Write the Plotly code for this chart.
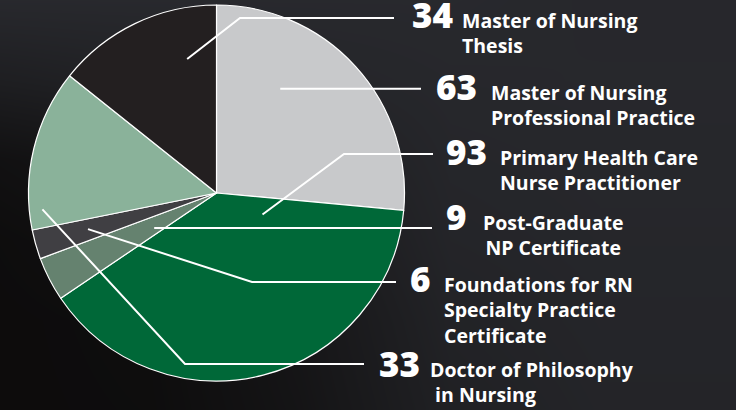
import math
import plotly.graph_objects as go

# ---- data (pie order: clockwise from 12 o'clock) ----
programs = [
    "Master of Nursing Professional Practice",
    "Primary Health Care Nurse Practitioner",
    "Post-Graduate NP Certificate",
    "Foundations for RN Specialty Practice Certificate",
    "Doctor of Philosophy in Nursing",
    "Master of Nursing Thesis",
]
enrolment = [63, 93, 9, 6, 33, 34]
label_lines = [
    ["Master of Nursing", "Professional Practice"],
    ["Primary Health Care", "Nurse Practitioner"],
    ["Post-Graduate", "NP Certificate"],
    ["Foundations for RN", "Specialty Practice", "Certificate"],
    ["Doctor of Philosophy", "&nbsp;in Nursing"],
    ["Master of Nursing", "Thesis"],
]
slice_colors = ["#c8c9cb", "#006838", "#65826f", "#403f43", "#8ab29a", "#231f20"]

# ---- layout constants (pixels) ----
W, H = 736, 410
CX, CY, R = 216.5, 193.0, 188.0

# leader: (position inside slice 0..1, radius fraction, elbow x, elbow y, end x)
leaders = [
    (0.33, 0.65, None, None, 421),
    (0.14, 0.27, 344, 154, 433),
    (0.35, 0.38, None, None, 432),
    (0.52, 0.71, 252, 282, 396),
    (0.12, 0.93, 185, 364, 364),
    (0.76, 0.73, 240, 18, 394),
]
# label: (number right x, text x, first-line baseline y, xanchor)
label_pos = [
    (479, 489, 101, "left"),
    (489, 498, 166, "left"),
    (469, 553, 231, "center"),
    (433, 442, 293, "left"),
    (422, 428, 378, "left"),
    (455, 460, 29, "left"),
]

FONT = "Open Sans"
NUM_SIZE = 35
TXT_SIZE = 19.5
TXT_RAISE = 2
ASC = 1.069   # Open Sans ascent (em)
DESC = 0.293  # Open Sans descent (em)

fig = go.Figure()

# background shading (decorative)
bg_x = [0, 150, 300, 450, 600, 736]
bg_y = [0, 80, 160, 240, 320, 410]
bg_z = [
    [0.90, 0.90, 0.90, 0.90, 0.86, 0.86],
    [0.60, 0.70, 0.80, 0.86, 0.87, 0.87],
    [0.20, 0.35, 0.60, 0.82, 0.85, 0.85],
    [0.08, 0.20, 0.45, 0.78, 0.83, 0.83],
    [0.05, 0.10, 0.35, 0.72, 0.80, 0.80],
    [0.05, 0.08, 0.30, 0.66, 0.77, 0.77],
]
fig.add_trace(go.Heatmap(
    x=bg_x, y=bg_y, z=bg_z, zsmooth="best", showscale=False, hoverinfo="skip",
    colorscale=[[0, "#0b0a0a"], [1, "#2b2c31"]], zmin=0, zmax=1,
))

fig.add_trace(go.Pie(
    labels=programs, values=enrolment, sort=False, direction="clockwise", rotation=0,
    marker=dict(colors=slice_colors, line=dict(color="white", width=1.2)),
    textinfo="none", hoverinfo="label+value", showlegend=False,
    domain=dict(x=[(CX - R) / W, (CX + R) / W], y=[(H - CY - R) / H, (H - CY + R) / H]),
))

total = sum(enrolment)
acc = 0
shapes = []
annotations = []
for i, v in enumerate(enrolment):
    a0 = acc / total * 360
    acc += v
    a1 = acc / total * 360
    t, rf, ex, ey, endx = leaders[i]
    ang = math.radians(a0 + t * (a1 - a0))
    sx = CX + rf * R * math.sin(ang)
    sy = CY - rf * R * math.cos(ang)
    if ex is None:
        path = f"M{sx},{sy} L{endx},{sy}"
    else:
        path = f"M{sx},{sy} L{ex},{ey} L{endx},{ey}"
    shapes.append(dict(type="path", path=path, xref="x", yref="y",
                       line=dict(color="white", width=2), layer="above"))

    nx, tx, base, xa = label_pos[i]
    annotations.append(dict(
        x=nx, y=base + DESC * NUM_SIZE + 1, xref="x", yref="y",
        xanchor="right", yanchor="bottom", showarrow=False, text=str(v),
        font=dict(family=FONT, size=NUM_SIZE, color="white", weight=800),
    ))
    annotations.append(dict(
        x=tx, y=base - ASC * TXT_SIZE - 1 - TXT_RAISE, xref="x", yref="y",
        xanchor=xa, yanchor="top", align=xa, showarrow=False,
        text="<br>".join(label_lines[i]),
        font=dict(family=FONT, size=TXT_SIZE, color="white", weight=700),
    ))

fig.update_layout(
    width=W, height=H, margin=dict(l=0, r=0, t=0, b=0),
    paper_bgcolor="#1c1c1e", plot_bgcolor="rgba(0,0,0,0)",
    xaxis=dict(range=[0, W], visible=False, fixedrange=True),
    yaxis=dict(range=[H, 0], visible=False, fixedrange=True),
    shapes=shapes, annotations=annotations, showlegend=False,
)

fig.write_html("out.html", config={"displayModeBar": False},
               post_script="document.body.style.margin='0';")
